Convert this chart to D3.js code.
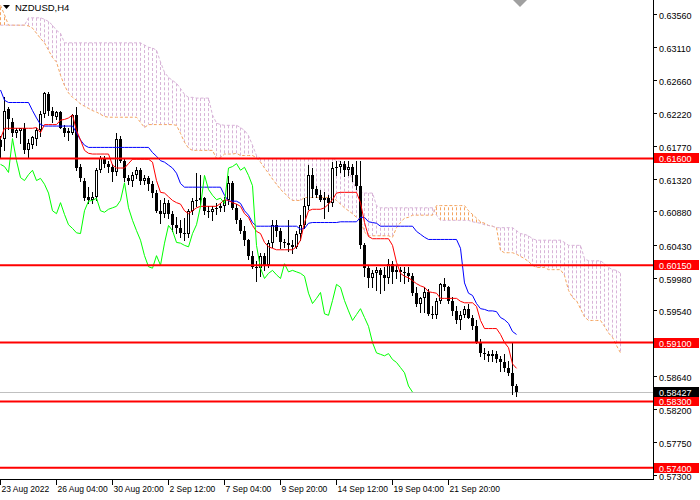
<!DOCTYPE html>
<html>
<head>
<meta charset="utf-8">
<script src="https://cdn.jsdelivr.net/npm/d3@7"></script>
<style>
  body { margin: 0; background: #fff; }
  svg { display: block; }
  text { font-family: "Liberation Sans", Arial, sans-serif; }
</style>
</head>
<body>
<div id="chart"></div>
<script>
// H4 candles, one per bar, left to right
const candleOpen = [
  .6185,.6187,.6227,.6210,.6194,.6197,.6201,.6171,.6178,.6187,
  .6198,.6220,.6247,.6225,.6216,.6223,.6202,.6197,.6195,.6219,
  .6148,.6130,.6107,.6104,.6107,.6145,.6161,.6152,.6149,.6141,
  .6187,.6157,.6134,.6130,.6138,.6144,.6130,.6133,.6125,.6113,
  .6089,.6085,.6100,.6084,.6070,.6065,.6059,.6058,.6089,.6102,
  .6103,.6106,.6089,.6087,.6091,.6093,.6095,.6103,.6127,.6093,
  .6076,.6062,.6049,.6028,.6013,.6011,.6028,.6015,.6045,.6069,
  .6062,.6046,.6045,.6042,.6040,.6058,.6070,.6095,.6137,.6118,
  .6110,.6104,.6106,.6099,.6147,.6149,.6153,.6144,.6148,.6137,
  .6123,.6042,.6011,.5997,.6004,.6008,.6002,.5997,.6017,.6006,
  .6008,.6006,.6004,.6000,.5977,.5963,.5970,.5978,.5949,.5947,
  .5967,.5989,.5985,.5967,.5953,.5940,.5948,.5956,.5944,.5932,
  .5910,.5896,.5894,.5892,.5895,.5887,.5883,.5876,.5869,.5851];
const candleHigh = [
  .6191,.6243,.6230,.6215,.6201,.6202,.6208,.6187,.6191,.6202,
  .6225,.6250,.6250,.6230,.6225,.6225,.6205,.6202,.6221,.6230,
  .6152,.6133,.6121,.6114,.6147,.6164,.6164,.6157,.6153,.6194,
  .6191,.6160,.6137,.6141,.6148,.6147,.6138,.6136,.6129,.6117,
  .6103,.6106,.6104,.6089,.6081,.6077,.6079,.6092,.6106,.6140,
  .6137,.6108,.6095,.6096,.6099,.6099,.6108,.6136,.6130,.6098,
  .6079,.6068,.6051,.6035,.6021,.6032,.6031,.6049,.6076,.6076,
  .6065,.6051,.6076,.6049,.6062,.6083,.6106,.6151,.6147,.6123,
  .6117,.6114,.6110,.6155,.6157,.6157,.6157,.6156,.6153,.6157,
  .6157,.6045,.6015,.6008,.6013,.6011,.6013,.6024,.6021,.6015,
  .6013,.6013,.6013,.6005,.5985,.5972,.5985,.5983,.5960,.5970,
  .5991,.5998,.5987,.5972,.5959,.5953,.5960,.5963,.5948,.5940,
  .5915,.5903,.5899,.5900,.5899,.5892,.5895,.5885,.5909,.5854];
const candleLow = [
  .6161,.6171,.6200,.6191,.6189,.6181,.6167,.6160,.6174,.6178,
  .6191,.6216,.6219,.6209,.6213,.6201,.6191,.6185,.6193,.6144,
  .6129,.6103,.6100,.6099,.6103,.6141,.6149,.6141,.6130,.6138,
  .6155,.6130,.6125,.6123,.6133,.6125,.6126,.6117,.6107,.6087,
  .6073,.6081,.6079,.6061,.6059,.6054,.6049,.6054,.6085,.6096,
  .6098,.6084,.6081,.6076,.6084,.6088,.6089,.6098,.6091,.6072,
  .6059,.6042,.6024,.6011,.5994,.6001,.6008,.6012,.6040,.6055,
  .6039,.6040,.6035,.6031,.6038,.6049,.6066,.6092,.6108,.6107,
  .6102,.6079,.6089,.6096,.6137,.6141,.6136,.6138,.6130,.6119,
  .6038,.6001,.5985,.5985,.5981,.5977,.5981,.5991,.5991,.5997,
  .5994,.5991,.5994,.5974,.5960,.5952,.5951,.5947,.5943,.5944,
  .5964,.5981,.5964,.5947,.5937,.5929,.5945,.5943,.5929,.5909,
  .5892,.5888,.5885,.5885,.5883,.5872,.5872,.5866,.5840,.5838];
const candleClose = [
  .6175,.6225,.6213,.6194,.6198,.6201,.6171,.6181,.6189,.6198,
  .6221,.6249,.6225,.6217,.6223,.6202,.6194,.6195,.6219,.6147,
  .6133,.6106,.6104,.6107,.6145,.6161,.6152,.6149,.6141,.6187,
  .6157,.6134,.6130,.6138,.6144,.6130,.6133,.6125,.6113,.6089,
  .6085,.6100,.6084,.6070,.6065,.6059,.6058,.6089,.6102,.6103,
  .6106,.6089,.6087,.6091,.6093,.6095,.6103,.6127,.6093,.6076,
  .6062,.6049,.6028,.6013,.6011,.6028,.6015,.6045,.6069,.6062,
  .6046,.6045,.6042,.6040,.6058,.6070,.6095,.6137,.6118,.6110,
  .6104,.6106,.6099,.6147,.6149,.6153,.6144,.6148,.6137,.6123,
  .6042,.6011,.5997,.6004,.6008,.6002,.5997,.6017,.6006,.6008,
  .6006,.6004,.6000,.5977,.5963,.5970,.5978,.5949,.5947,.5967,
  .5989,.5985,.5967,.5953,.5940,.5948,.5956,.5944,.5932,.5910,
  .5896,.5894,.5892,.5895,.5887,.5883,.5876,.5869,.5851,.58427];

// Ichimoku lines
const tenkan = [
  .6187,.6201,.6201,.6201,.6201,.6201,.6201,.6201,.6201,.6202,
  .6195,.6206,.6206,.6206,.6206,.6212,.6213,.6215,.6219,.6198,
  .6185,.6171,.6167,.6166,.6166,.6166,.6166,.6166,.6151,.6147,
  .6147,.6147,.6153,.6159,.6159,.6159,.6159,.6159,.6155,.6130,
  .6114,.6113,.6108,.6103,.6100,.6098,.6089,.6085,.6089,.6093,
  .6095,.6095,.6095,.6095,.6095,.6099,.6104,.6103,.6100,.6098,
  .6095,.6085,.6080,.6069,.6061,.6058,.6046,.6040,.6038,.6036,
  .6036,.6036,.6036,.6036,.6040,.6049,.6073,.6089,.6091,.6091,
  .6091,.6093,.6098,.6104,.6113,.6114,.6114,.6114,.6114,.6114,
  .6100,.6073,.6054,.6051,.6051,.6051,.6051,.6051,.6042,.6019,
  .6004,.6000,.5998,.5994,.5990,.5987,.5985,.5979,.5978,.5977,
  .5970,.5970,.5970,.5970,.5970,.5966,.5964,.5964,.5964,.5959,
  .5940,.5929,.5929,.5929,.5929,.5921,.5910,.5903,.5881,.5875];
const kijun = [
  .6253,.6239,.6236,.6236,.6236,.6236,.6236,.6236,.6225,.6215,
  .6206,.6204,.6204,.6204,.6204,.6204,.6204,.6204,.6204,.6195,
  .6185,.6178,.6175,.6175,.6175,.6175,.6175,.6175,.6175,.6175,
  .6175,.6175,.6175,.6175,.6175,.6175,.6175,.6175,.6168,.6163,
  .6157,.6155,.6151,.6147,.6140,.6126,.6121,.6121,.6121,.6121,
  .6121,.6121,.6121,.6121,.6121,.6121,.6110,.6102,.6102,.6102,
  .6099,.6089,.6083,.6073,.6068,.6068,.6068,.6068,.6068,.6068,
  .6068,.6068,.6068,.6068,.6068,.6064,.6065,.6072,.6073,.6073,
  .6073,.6073,.6073,.6073,.6073,.6074,.6074,.6074,.6074,.6074,
  .6080,.6080,.6074,.6073,.6072,.6068,.6068,.6068,.6068,.6068,
  .6068,.6068,.6068,.6068,.6061,.6057,.6053,.6050,.6050,.6050,
  .6050,.6050,.6050,.6050,.6050,.6038,.5991,.5977,.5974,.5963,
  .5956,.5955,.5953,.5953,.5952,.5944,.5941,.5936,.5925,.5921];
// senkou spans run 26 bars past the last candle
const spanA = [
  .6368,.6355,.6341,.6341,.6341,.6341,.6341,.6340,.6337,.6330,
  .6323,.6317,.6307,.6297,.6291,.6273,.6259,.6249,.6243,.6239,
  .6234,.6231,.6228,.6225,.6223,.6220,.6217,.6216,.6216,.6216,
  .6216,.6216,.6216,.6216,.6216,.6209,.6202,.6206,.6206,.6206,
  .6206,.6206,.6206,.6206,.6205,.6194,.6182,.6174,.6171,.6171,
  .6171,.6171,.6171,.6171,.6160,.6161,.6166,.6166,.6166,.6167,
  .6164,.6164,.6164,.6164,.6161,.6155,.6147,.6140,.6132,.6125,
  .6118,.6113,.6107,.6103,.6103,.6103,.6107,.6107,.6107,.6107,
  .6107,.6107,.6107,.6107,.6103,.6098,.6093,.6089,.6085,.6080,
  .6076,.6060,.6055,.6055,.6055,.6055,.6055,.6055,.6053,.6066,
  .6073,.6079,.6080,.6083,.6083,.6083,.6083,.6083,.6083,.6096,
  .6096,.6096,.6096,.6096,.6096,.6096,.6096,.6089,.6084,.6079,
  .6074,.6072,.6069,.6068,.6066,.6035,.6032,.6032,.6032,.6030,
  .6027,.6024,.6020,.6015,.6012,.6012,.6012,.6009,.6009,.6009,
  .6009,.6001,.5981,.5971,.5967,.5956,.5945,.5940,.5940,.5940,
  .5940,.5932,.5923,.5917,.5906,.5896];
const spanB = [
  .6341,.6341,.6341,.6341,.6341,.6341,.6341,.6351,.6351,.6351,
  .6351,.6349,.6346,.6341,.6334,.6330,.6317,.6317,.6317,.6317,
  .6317,.6317,.6317,.6317,.6317,.6317,.6317,.6317,.6317,.6317,
  .6317,.6317,.6317,.6317,.6317,.6317,.6314,.6311,.6310,.6307,
  .6291,.6277,.6270,.6266,.6262,.6255,.6247,.6243,.6243,.6242,
  .6242,.6242,.6242,.6219,.6208,.6206,.6205,.6205,.6205,.6205,
  .6202,.6198,.6191,.6178,.6164,.6160,.6160,.6160,.6160,.6160,
  .6160,.6160,.6160,.6160,.6160,.6160,.6160,.6160,.6160,.6160,
  .6160,.6160,.6160,.6160,.6157,.6156,.6153,.6144,.6130,.6117,
  .6114,.6113,.6113,.6113,.6096,.6093,.6093,.6093,.6093,.6093,
  .6093,.6093,.6093,.6093,.6093,.6093,.6093,.6093,.6093,.6083,
  .6076,.6076,.6076,.6076,.6076,.6076,.6076,.6076,.6074,.6073,
  .6072,.6070,.6069,.6068,.6066,.6066,.6066,.6066,.6066,.6062,
  .6058,.6057,.6055,.6051,.6049,.6049,.6049,.6049,.6049,.6049,
  .6049,.6046,.6042,.6042,.6042,.6042,.6024,.6021,.6021,.6021,
  .6021,.6017,.6012,.6009,.6008,.6004];
const chikouShift = 26;

const levels = [0.6160, 0.6015, 0.5910, 0.5830, 0.5740];
const bidPrice = 0.58427;
const priceTicks = [0.6356, 0.6311, 0.6266, 0.6222, 0.6177, 0.6132, 0.6088, 0.6043,
                    0.5998, 0.5954, 0.5909, 0.5864, 0.5820, 0.5775, 0.5730];
const dateTickBars = [0, 14, 28, 42, 56, 70, 84, 98, 112];
const dateTickLabels = ["23 Aug 2022", "26 Aug 04:00", "30 Aug 20:00", "2 Sep 12:00", "7 Sep 04:00",
                        "9 Sep 20:00", "14 Sep 12:00", "19 Sep 04:00", "21 Sep 20:00"];

var width = 700, height = 500,
    plotW = 653, plotH = 479;

var svg = d3.select("#chart").append("svg")
    .attr("width", width)
    .attr("height", height);
svg.append("rect").attr("width", width).attr("height", height).attr("fill", "#fff");

var x = d3.scaleLinear().domain([0, 163.25]).range([0, plotW]);
var y = d3.scaleLinear().domain([0.57247, 0.63752]).range([plotH, 0]);
var px = i => Math.round(x(i));

svg.append("clipPath").attr("id", "plotclip")
  .append("rect").attr("width", plotW).attr("height", plotH);
var plot = svg.append("g").attr("clip-path", "url(#plotclip)");

// cloud hatching, one dotted stroke per bar
plot.append("g").selectAll("line")
  .data(d3.range(spanA.length))
  .enter().append("line")
    .attr("x1", i => px(i) + 0.5).attr("x2", i => px(i) + 0.5)
    .attr("y1", i => y(spanB[i]))
    .attr("y2", i => y(spanA[i]))
    .attr("stroke", i => spanA[i] > spanB[i] ? "#F4A460" : "#D8B4D8")
    .attr("stroke-dasharray", "3,2")
    .attr("stroke-width", 1);

var line = d3.line().x((d, i) => px(i) + 0.5).y(d => y(d));
plot.append("path").attr("d", line(spanA)).attr("fill", "none")
    .attr("stroke", "#F4A460").attr("stroke-dasharray", "3,2");
plot.append("path").attr("d", line(spanB)).attr("fill", "none")
    .attr("stroke", "#D8B4D8").attr("stroke-dasharray", "3,2");

// bid line
plot.append("line")
    .attr("x1", 0).attr("x2", plotW)
    .attr("y1", Math.round(y(bidPrice)) + 0.5).attr("y2", Math.round(y(bidPrice)) + 0.5)
    .attr("stroke", "#C0C0C0");

// candles
var candles = plot.append("g").attr("shape-rendering", "crispEdges");
candleOpen.forEach(function(o, i) {
    var c = candleClose[i], cx = px(i);
    candles.append("line")
        .attr("x1", cx + 0.5).attr("x2", cx + 0.5)
        .attr("y1", Math.round(y(candleHigh[i]))).attr("y2", Math.round(y(candleLow[i])) + 1)
        .attr("stroke", "#000");
    var top = Math.round(y(Math.max(o, c))), bot = Math.round(y(Math.min(o, c)));
    var h = Math.max(1, bot - top);
    if (c > o && h > 2) {
        candles.append("rect").attr("x", cx - 0.5).attr("y", top + 0.5)
            .attr("width", 2).attr("height", h - 1)
            .attr("fill", "#fff").attr("stroke", "#000");
    } else {
        candles.append("rect").attr("x", cx - 1).attr("y", top)
            .attr("width", 3).attr("height", h).attr("fill", "#000");
    }
});

// tenkan, kijun, chikou
plot.append("path").attr("d", line(kijun)).attr("fill", "none").attr("stroke", "#0000FF");
plot.append("path").attr("d", line(tenkan)).attr("fill", "none").attr("stroke", "#FF0000");
var chikou = d3.line().x((d, i) => px(i) + 0.5).y(d => y(d));
plot.append("path").attr("d", chikou(candleClose.slice(chikouShift)))
    .attr("fill", "none").attr("stroke", "#00FF00");

// horizontal levels
plot.append("g").selectAll("line")
  .data(levels)
  .enter().append("line")
    .attr("x1", 0).attr("x2", plotW)
    .attr("y1", d => y(d)).attr("y2", d => y(d))
    .attr("stroke", "#FF0000").attr("stroke-width", 2);

// axes frame
svg.append("line").attr("x1", plotW + 0.5).attr("x2", plotW + 0.5).attr("y1", 0).attr("y2", plotH + 1)
    .attr("stroke", "#000");
svg.append("line").attr("x1", 0).attr("x2", plotW + 1).attr("y1", plotH + 0.5).attr("y2", plotH + 0.5)
    .attr("stroke", "#000");

// price scale
var yAxis = svg.append("g").attr("shape-rendering", "crispEdges");
priceTicks.forEach(function(v) {
    var ty = Math.round(y(v)) + 0.5;
    yAxis.append("line").attr("x1", plotW + 1).attr("x2", plotW + 4).attr("y1", ty).attr("y2", ty).attr("stroke", "#000");
    yAxis.append("text").attr("x", plotW + 6).attr("y", ty + 4.5)
        .attr("font-size", "9px").attr("fill", "#000").text(d3.format(".5f")(v));
});
levels.forEach(function(v) {
    var ty = Math.round(y(v));
    yAxis.append("rect").attr("x", plotW + 1).attr("y", ty - 5).attr("width", 45).attr("height", 10).attr("fill", "#FF0000");
    yAxis.append("text").attr("x", plotW + 6).attr("y", ty + 3.5)
        .attr("font-size", "9px").attr("fill", "#fff").text(d3.format(".5f")(v));
});
var by = Math.round(y(bidPrice));
yAxis.append("rect").attr("x", plotW + 1).attr("y", by - 5).attr("width", 45).attr("height", 10).attr("fill", "#000");
yAxis.append("text").attr("x", plotW + 6).attr("y", by + 3.5)
    .attr("font-size", "9px").attr("fill", "#fff").text(d3.format(".5f")(bidPrice));

// time scale
var xAxis = svg.append("g").attr("shape-rendering", "crispEdges");
dateTickBars.forEach(function(b, k) {
    var tx = px(b) + 0.5;
    xAxis.append("line").attr("x1", tx).attr("x2", tx).attr("y1", plotH + 1).attr("y2", plotH + 6).attr("stroke", "#000");
    xAxis.append("text").attr("x", tx + 1).attr("y", plotH + 13)
        .attr("font-size", "8.5px").attr("fill", "#000").text(dateTickLabels[k]);
});

// chart title and shift marker
svg.append("path").attr("d", "M3,5 L10,5 L6.5,9 Z").attr("fill", "#000");
svg.append("text").attr("x", 15).attr("y", 11).attr("font-size", "9.5px").attr("fill", "#000").text("NZDUSD,H4");
svg.append("path").attr("d", "M513,0 L527,0 L520,7 Z").attr("fill", "#A0A0A0");
</script>
</body>
</html>
